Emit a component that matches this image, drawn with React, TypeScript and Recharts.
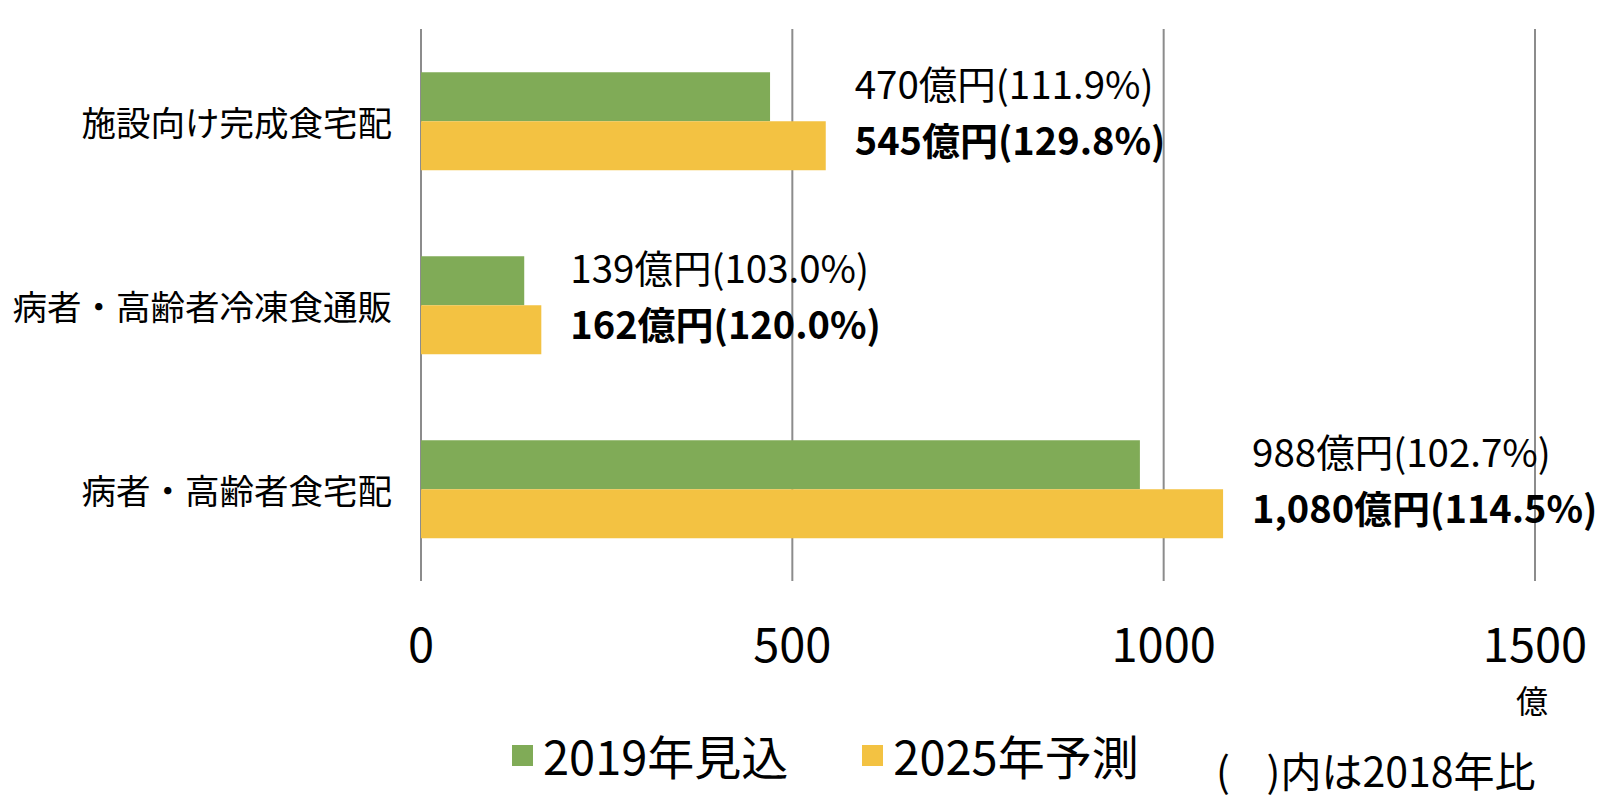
import React from 'react';
import { BarChart, Bar, XAxis, YAxis, CartesianGrid, Legend, LabelList } from 'recharts';

const categories = ['施設向け完成食宅配', '病者・高齢者冷凍食通販', '病者・高齢者食宅配'];
const est2019 = [470, 139, 968];
const fc2025 = [545, 162, 1080];
const labels2019 = ['470億円(111.9%)', '139億円(103.0%)', '988億円(102.7%)'];
const labels2025 = ['545億円(129.8%)', '162億円(120.0%)', '1,080億円(114.5%)'];
const xTicks = [0, 500, 1000, 1500];

const data = categories.map((name, i) => ({
  name,
  est: est2019[i],
  fc: fc2025[i],
}));

const FONT = '"Noto Sans CJK JP", "Noto Sans", sans-serif';

const GREEN = '#80ab57';
const YELLOW = '#f3c242';

const XTick = (props: any) => {
  const { x, y, payload } = props;
  return (
    <text x={x} y={y + 52} textAnchor="middle" dominantBaseline="central" fontSize={47} fill="#000" fontFamily={FONT}>
      {payload.value}
    </text>
  );
};

const YTick = (props: any) => {
  const { x, y, payload } = props;
  return (
    <text x={x} y={y} textAnchor="end" dominantBaseline="central" fontSize={34.5} fill="#000" fontFamily={FONT}>
      {payload.value}
    </text>
  );
};

const renderLabels = (props: any) => {
  const { x, y, width, height, index } = props;
  const tx = x + width + 29;
  const cy = y + height / 2;
  return (
    <g fontFamily={FONT} fill="#000">
      <text x={tx} y={cy - 64} dominantBaseline="central" fontSize={38.5}>
        {labels2019[index]}
      </text>
      <text x={tx} y={cy - 7} dominantBaseline="central" fontSize={38} fontWeight="bold">
        {labels2025[index]}
      </text>
    </g>
  );
};

const renderLegend = (props: any) => {
  const { payload } = props;
  return (
    <div style={{ display: 'flex', alignItems: 'center', fontFamily: FONT }}>
      {(payload || []).map((item: any, i: number) => (
        <div key={i} style={{ display: 'flex', alignItems: 'center', marginRight: 74 }}>
          <div style={{ width: 21, height: 21, background: item.color, marginRight: 10 }} />
          <span style={{ fontSize: 47, lineHeight: '50px', color: '#000' }}>{item.value}</span>
        </div>
      ))}
    </div>
  );
};

export default function App() {
  return (
    <div style={{ position: 'absolute', left: 0, top: 0, width: 1616, height: 806, background: '#fff' }}>
      <BarChart
        width={1616}
        height={806}
        data={data}
        layout="vertical"
        margin={{ top: 29, right: 81, left: 0, bottom: 95 }}
        barCategoryGap="23.5%"
        barGap={0}
      >
        <CartesianGrid horizontal={false} vertical stroke="#8c8c8c" strokeWidth={2} />
        <XAxis
          type="number"
          domain={[0, 1500]}
          ticks={xTicks}
          axisLine={false}
          tickLine={false}
          height={80}
          tick={<XTick />}
        />
        <YAxis
          type="category"
          dataKey="name"
          width={421}
          axisLine={false}
          tickLine={false}
          tickSize={0}
          tickMargin={29}
          tick={<YTick />}
        />
        <Legend
          content={renderLegend}
          wrapperStyle={{ position: 'absolute', left: 512, top: 730, width: 'auto' }}
        />
        <Bar dataKey="est" name="2019年見込" fill={GREEN} isAnimationActive={false} />
        <Bar dataKey="fc" name="2025年予測" fill={YELLOW} isAnimationActive={false}>
          <LabelList dataKey="fc" content={renderLabels} />
        </Bar>
      </BarChart>
      <div style={{ position: 'absolute', left: 1516, top: 683, fontSize: 32, fontFamily: FONT, lineHeight: '32px' }}>億</div>
      <div style={{ position: 'absolute', left: 1216, top: 746, fontSize: 41, fontFamily: FONT, lineHeight: '46px', whiteSpace: 'pre' }}>
        {'(    )内は2018年比'}
      </div>
    </div>
  );
}
